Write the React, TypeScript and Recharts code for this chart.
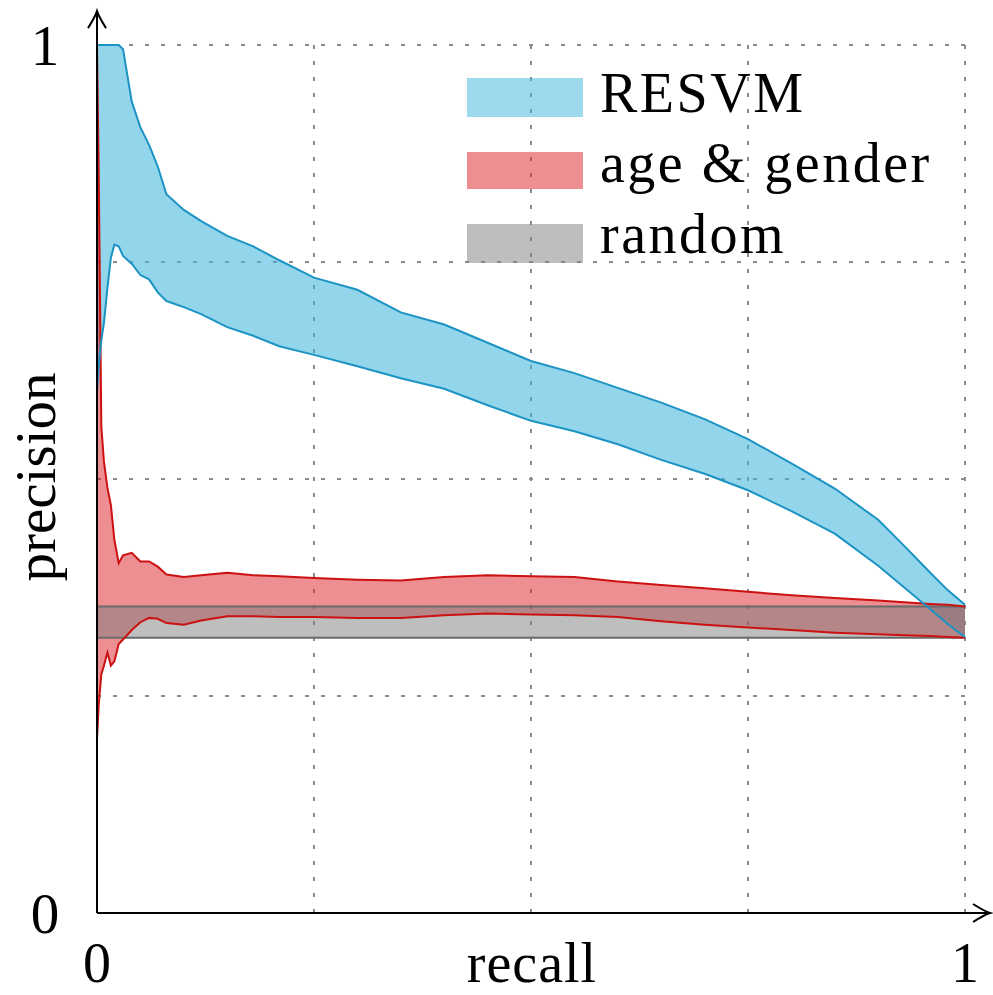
import React from 'react';
import { ComposedChart, Area, XAxis, YAxis, CartesianGrid, ReferenceLine, Legend } from 'recharts';

const FONT = '"Liberation Serif", "Times New Roman", serif';

// recall sample positions
const recall = [0, 0.002, 0.005, 0.008, 0.012, 0.016, 0.02, 0.025, 0.03, 0.04, 0.05, 0.06, 0.07, 0.08, 0.1, 0.12, 0.15, 0.18, 0.21, 0.25, 0.3, 0.35, 0.4, 0.45, 0.5, 0.55, 0.6, 0.65, 0.7, 0.75, 0.8, 0.85, 0.9, 0.93, 0.96, 0.98, 1];

// RESVM precision band
const resvmHigh = [1, 1, 1, 1, 1, 1, 1, 1, 0.995, 0.935, 0.905, 0.885, 0.86, 0.828, 0.81, 0.797, 0.78, 0.768, 0.752, 0.732, 0.718, 0.692, 0.678, 0.657, 0.636, 0.622, 0.605, 0.588, 0.569, 0.546, 0.518, 0.489, 0.453, 0.423, 0.392, 0.372, 0.355];
const resvmLow = [0.6, 0.63, 0.66, 0.68, 0.72, 0.755, 0.77, 0.768, 0.757, 0.748, 0.735, 0.73, 0.715, 0.705, 0.698, 0.69, 0.675, 0.665, 0.653, 0.643, 0.63, 0.616, 0.604, 0.585, 0.567, 0.555, 0.54, 0.522, 0.506, 0.487, 0.463, 0.437, 0.4, 0.375, 0.35, 0.333, 0.318];

// age & gender precision band
const ageHigh = [1.0, 0.85, 0.56, 0.52, 0.49, 0.47, 0.43, 0.403, 0.412, 0.415, 0.405, 0.405, 0.399, 0.39, 0.387, 0.389, 0.392, 0.389, 0.388, 0.386, 0.384, 0.383, 0.387, 0.389, 0.388, 0.387, 0.382, 0.378, 0.374, 0.37, 0.366, 0.363, 0.36, 0.358, 0.356, 0.355, 0.353];
const ageLow = [0.2, 0.24, 0.275, 0.285, 0.3, 0.285, 0.29, 0.31, 0.315, 0.326, 0.335, 0.34, 0.339, 0.334, 0.332, 0.337, 0.342, 0.342, 0.341, 0.341, 0.34, 0.34, 0.343, 0.345, 0.344, 0.343, 0.341, 0.336, 0.332, 0.329, 0.326, 0.323, 0.321, 0.32, 0.319, 0.318, 0.317];

// random baseline band
const RANDOM_LOW = 0.317;
const RANDOM_HIGH = 0.353;

const gridTicks = [0, 0.25, 0.5, 0.75, 1];
const labelTicks = [0, 1];
const legendLabels = ['RESVM', 'age & gender', 'random'];

const BLUE_FILL = '#3bb4da';
const BLUE_LINE = '#1b93c3';
const RED_FILL = '#dc1e28';
const RED_LINE = '#cc1111';
const GRAY_FILL = '#7d7d7d';
const GRAY_LINE = '#6a6a6a';

const table = recall.map((r, i) => ({
  recall: r,
  resvm: [resvmLow[i], resvmHigh[i]],
  age: [ageLow[i], ageHigh[i]],
  random: [RANDOM_LOW, RANDOM_HIGH],
}));

const arrowShape = (p: any) => {
  const { x1, y1, x2, y2 } = p;
  const len = Math.hypot(x2 - x1, y2 - y1) || 1;
  const dx = (x2 - x1) / len;
  const dy = (y2 - y1) / len;
  const nx = -dy;
  const ny = dx;
  const L = 17;
  const W = 9;
  const b1x = x2 - L * dx + W * nx;
  const b1y = y2 - L * dy + W * ny;
  const b2x = x2 - L * dx - W * nx;
  const b2y = y2 - L * dy - W * ny;
  const cx = x2 - 5 * dx;
  const cy = y2 - 5 * dy;
  return (
    <g>
      <line x1={x1} y1={y1} x2={x2} y2={y2} stroke="#000" strokeWidth={2} />
      <path
        d={`M ${b1x} ${b1y} Q ${cx + 1.5 * nx} ${cy + 1.5 * ny} ${x2} ${y2} Q ${cx - 1.5 * nx} ${cy - 1.5 * ny} ${b2x} ${b2y}`}
        fill="none"
        stroke="#000"
        strokeWidth={2}
      />
    </g>
  );
};

const XTick = (props: any) => {
  const { x, payload } = props;
  if (!labelTicks.includes(payload.value)) return <g />;
  return (
    <text x={x} y={982} textAnchor="middle" fontFamily={FONT} fontSize={56} fill="#000">
      {payload.value}
    </text>
  );
};

const YTick = (props: any) => {
  const { y, payload } = props;
  if (!labelTicks.includes(payload.value)) return <g />;
  return (
    <text x={45} y={y + 20} textAnchor="middle" fontFamily={FONT} fontSize={57} fill="#000">
      {payload.value}
    </text>
  );
};

const LegendBox = () => {
  const fills = [BLUE_FILL, RED_FILL, GRAY_FILL];
  const rects = [
    { y: 0, h: 39 },
    { y: 74, h: 37 },
    { y: 146, h: 39 },
  ];
  const baselines = [34, 104, 175];
  return (
    <svg width={480} height={200} style={{ display: 'block', overflow: 'visible' }}>
      {legendLabels.map((lab, i) => (
        <g key={lab}>
          <rect x={0} y={rects[i].y} width={116} height={rects[i].h} fill={fills[i]} fillOpacity={0.5} />
          <text x={133} y={baselines[i]} fontFamily={FONT} fontSize={56} letterSpacing={2.5} fill="#000">
            {lab}
          </text>
        </g>
      ))}
    </svg>
  );
};

export default function App() {
  return (
    <div style={{ position: 'absolute', left: 0, top: 0, width: 993, height: 995, background: '#fff' }}>
      <ComposedChart
        width={993}
        height={995}
        data={table}
        margin={{ top: 45, right: 28, left: 0, bottom: 0 }}
      >
        <CartesianGrid stroke="#8c8c8c" strokeWidth={2} strokeDasharray="4 12" />
        <XAxis
          dataKey="recall"
          type="number"
          domain={[0, 1]}
          ticks={gridTicks}
          interval={0}
          height={82}
          axisLine={false}
          tickLine={false}
          tick={XTick}
          label={() => (
            <text x={532} y={982} textAnchor="middle" fontFamily={FONT} fontSize={56} letterSpacing={1} fill="#000">
              recall
            </text>
          )}
        />
        <YAxis
          type="number"
          domain={[0, 1]}
          ticks={gridTicks}
          interval={0}
          width={97}
          axisLine={false}
          tickLine={false}
          tick={YTick}
          label={() => (
            <text
              x={55}
              y={477}
              transform="rotate(-90 55 477)"
              textAnchor="middle"
              fontFamily={FONT}
              fontSize={57}
              fill="#000"
            >
              precision
            </text>
          )}
        />
        <Area type="linear" dataKey="resvm" stroke="none" fill={BLUE_FILL} fillOpacity={0.55} isAnimationActive={false} dot={false} activeDot={false} />
        <Area type="linear" dataKey="age" stroke="none" fill={RED_FILL} fillOpacity={0.5} isAnimationActive={false} dot={false} activeDot={false} />
        <Area type="linear" dataKey="random" stroke="none" fill={GRAY_FILL} fillOpacity={0.5} isAnimationActive={false} dot={false} activeDot={false} />
        <Area type="linear" dataKey="random" stroke={GRAY_LINE} strokeWidth={2} fill="none" isAnimationActive={false} dot={false} activeDot={false} />
        <Area type="linear" dataKey="age" stroke={RED_LINE} strokeWidth={2} fill="none" isAnimationActive={false} dot={false} activeDot={false} />
        <Area type="linear" dataKey="resvm" stroke={BLUE_LINE} strokeWidth={2} fill="none" isAnimationActive={false} dot={false} activeDot={false} />
        <ReferenceLine
          segment={[{ x: 0, y: 0 }, { x: 1.0288, y: 0 }]}
          ifOverflow="visible"
          shape={arrowShape}
        />
        <ReferenceLine
          segment={[{ x: 0, y: 0 }, { x: 0, y: 1.039 }]}
          ifOverflow="visible"
          shape={arrowShape}
        />
        <Legend
          layout="vertical"
          align="center"
          verticalAlign="middle"
          wrapperStyle={{ left: 467, top: 78, width: 480, height: 200 }}
          content={() => <LegendBox />}
        />
      </ComposedChart>
    </div>
  );
}
